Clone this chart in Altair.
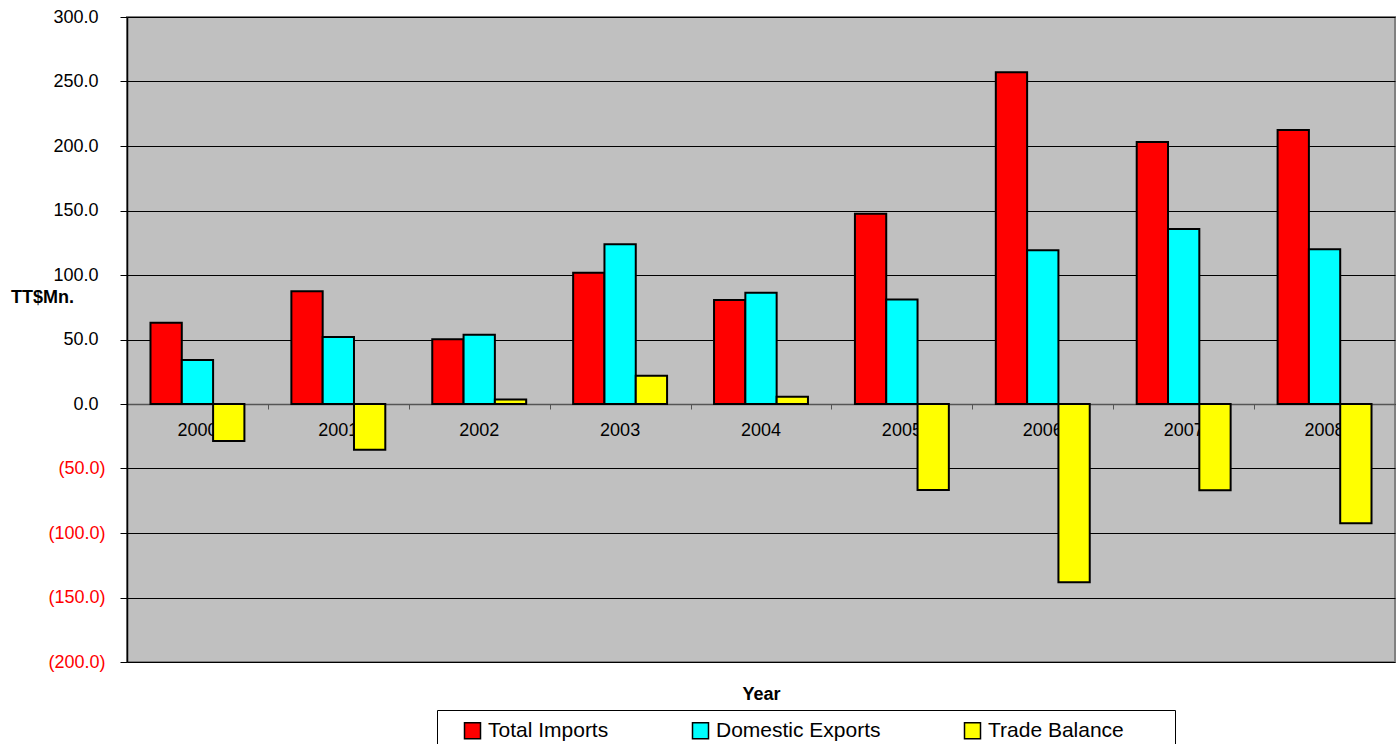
import altair as alt
import pandas as pd

# Trade figures by year (TT$ millions)
years = ["2000", "2001", "2002", "2003", "2004", "2005", "2006", "2007", "2008"]
total_imports = [63.0, 87.5, 50.2, 101.8, 80.6, 147.5, 257.1, 203.1, 212.4]
domestic_exports = [34.1, 52.0, 53.6, 123.8, 86.3, 81.1, 119.1, 135.7, 119.9]
trade_balance = [-28.7, -35.5, 3.4, 21.9, 5.7, -66.7, -138.2, -66.9, -92.5]

series = ["Total Imports", "Domestic Exports", "Trade Balance"]
series_colors = ["#FF0000", "#00FFFF", "#FFFF00"]
y_ticks = [-200, -150, -100, -50, 0, 50, 100, 150, 200, 250, 300]

rows = []
for name, values in zip(series, [total_imports, domestic_exports, trade_balance]):
    for yr, v in zip(years, values):
        rows.append({"Year": yr, "Series": name, "Value": v})
df = pd.DataFrame(rows)
year_df = pd.DataFrame({"Year": years, "Value": [0.0] * len(years)})

W, H = 1268, 645
step = W / len(years)
zero_from_bottom = H * 200 / 500  # pixel distance of the zero line above the bottom edge

# non-breaking spaces followed by a zero-width space so trailing padding survives trimming
NBSP = "\u00a0"
ZWSP = "\u200b"

x_enc = alt.X(
    "Year:N",
    sort=years,
    scale=alt.Scale(paddingInner=1 / 3, paddingOuter=1 / 6),
    axis=alt.Axis(
        title="Year",
        titleFontSize=18,
        titleFontWeight="bold",
        titleColor="black",
        titleBaseline="middle",
        titleY=290,
        labels=False,
        ticks=True,
        tickSize=5,
        tickColor="#555555",
        tickOffset=-step / 2,
        domain=True,
        domainColor="#555555",
        domainWidth=1.5,
        grid=False,
        offset=-zero_from_bottom,
    ),
)

y_enc = alt.Y(
    "Value:Q",
    scale=alt.Scale(domain=[-200, 300], nice=False, zero=False),
    axis=alt.Axis(
        values=y_ticks,
        labelExpr=(
            "datum.value < 0 ? '(' + format(-datum.value, '.1f') + ')' : "
            "format(datum.value, '.1f')"
        ),
        labelColor=alt.condition("datum.value < 0", alt.value("#FF0000"), alt.value("black")),
        labelPadding=alt.condition("datum.value < 0", alt.value(15), alt.value(22)),
        labelFontSize=18,
        tickSize=7,
        tickColor="black",
        domainColor="black",
        domainWidth=1.5,
        grid=True,
        gridColor="black",
        gridWidth=1,
        gridOpacity=1,
        title="TT$Mn.",
        titleAngle=0,
        titleFontSize=18,
        titleFontWeight="bold",
        titleColor="black",
        titleAlign="center",
        titleBaseline="middle",
        titleX=-85,
        titleY=280,
    ),
)

# Year captions sit just under the zero line, behind the bars
year_labels = alt.Chart(year_df).mark_text(
    baseline="middle", align="center", dy=26.5, fontSize=18, color="black"
).encode(x=x_enc, y=y_enc, text="Year:N")

bars = alt.Chart(df).mark_bar(stroke="black", strokeWidth=2).encode(
    x=x_enc,
    xOffset=alt.XOffset("Series:N", sort=series, scale=alt.Scale(paddingInner=0, paddingOuter=0)),
    y=y_enc,
    color=alt.Color(
        "Series:N",
        sort=series,
        scale=alt.Scale(domain=series, range=series_colors),
        legend=alt.Legend(
            orient="none",
            legendX=310,
            legendY=693,
            direction="horizontal",
            columns=3,
            columnPadding=80,
            title=" ",
            titleOrient="left",
            titleFontSize=21,
            titlePadding=15,
            padding=10,
            strokeColor="black",
            fillColor="white",
            symbolType="square",
            symbolSize=256,
            symbolStrokeColor="black",
            symbolStrokeWidth=1.5,
            labelFontSize=21,
            labelOffset=5,
            labelLimit=500,
            labelColor="black",
            labelExpr=(
                "datum.label == 'Trade Balance' ? datum.label + '"
                + NBSP * 7 + ZWSP + "' : datum.label"
            ),
        ),
    ),
)

chart = (
    alt.layer(year_labels, bars)
    .properties(
        width=W,
        height=H,
        padding={"left": 127, "top": 17, "right": 5, "bottom": 82},
        autosize=alt.AutoSizeParams(type="none"),
        background="white",
    )
    .configure(font="Liberation Sans")
    .configure_view(fill="#C0C0C0", stroke="#808080", strokeWidth=2)
)

chart.save("out.html", embed_options={"renderer": "svg", "actions": False})
